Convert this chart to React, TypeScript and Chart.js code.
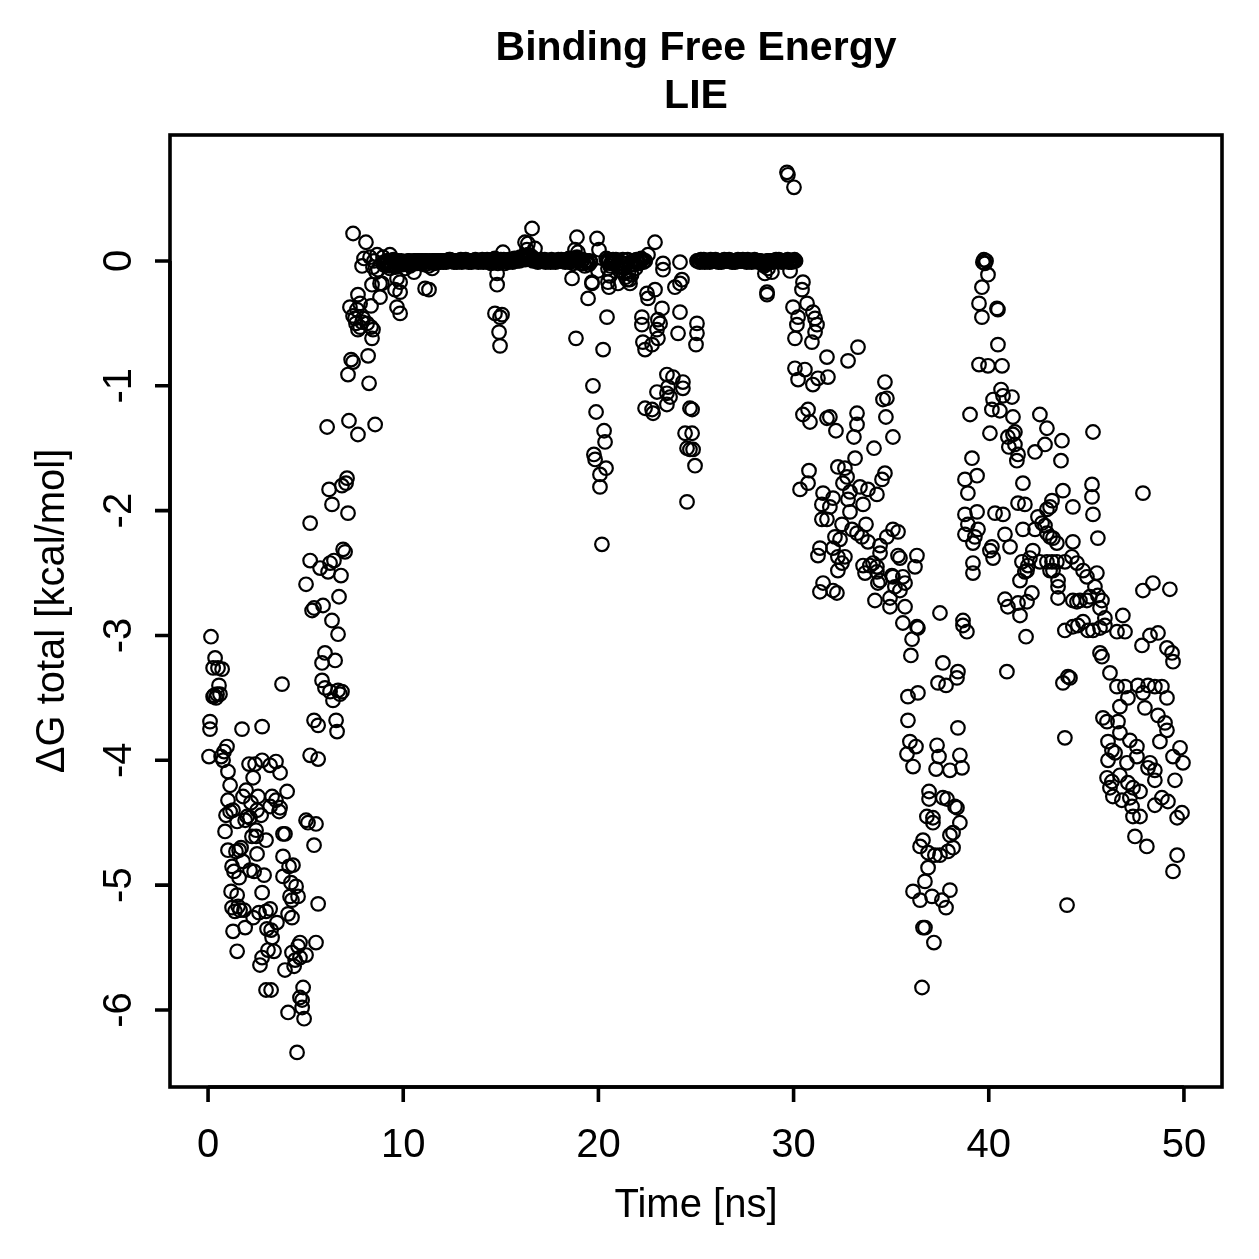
import React, { useEffect, useRef } from "react";
import { Chart, registerables } from "chart.js";

Chart.register(...registerables);

// ΔG (LIE) versus simulation time, [time ns, kcal/mol]
const seg0to5: [number, number][] = [
  [0.15, -3.01], [0.26, -3.26], [0.36, -3.18], [0.51, -3.26], [0.72, -3.27], [0.56, -3.4], [0.26, -3.49], [0.31, -3.48],
  [0.46, -3.47], [0.61, -3.47], [0.41, -3.5], [0.1, -3.69], [0.1, -3.75], [0.05, -3.97], [0.67, -3.97], [0.82, -3.93],
  [0.97, -3.89], [0.77, -4.0], [1.02, -4.09], [1.13, -4.2], [1.02, -4.32], [0.92, -4.44], [1.13, -4.41], [0.87, -4.57],
  [1.28, -4.4], [1.02, -4.72], [1.59, -4.72], [1.43, -4.73], [1.23, -4.85], [1.69, -4.7], [1.33, -4.89], [1.59, -4.94],
  [1.79, -4.81], [1.18, -5.05], [1.49, -5.08], [1.23, -5.18], [1.38, -5.21], [1.64, -5.2], [1.84, -5.2], [1.28, -5.37],
  [1.9, -5.34], [1.49, -5.53], [1.74, -3.75], [2.77, -3.73], [3.79, -3.39], [2.1, -4.03], [2.41, -4.03], [1.95, -4.24],
  [2.2, -4.34], [2.56, -4.29], [2.15, -4.46], [1.9, -4.48], [2.25, -4.61], [2.46, -4.61], [2.72, -4.44], [2.46, -4.56],
  [2.51, -4.75], [2.36, -4.89], [2.87, -4.92], [2.77, -5.06], [2.61, -5.22], [2.31, -5.26], [2.97, -5.21], [3.18, -5.19],
  [3.23, -5.36], [3.28, -5.42], [3.02, -5.35], [3.38, -5.53], [3.07, -5.52], [2.77, -5.58], [2.66, -5.64], [2.97, -5.84],
  [3.23, -5.84], [2.77, -4.0], [3.18, -4.04], [3.48, -4.01], [3.28, -4.29], [3.69, -4.1], [3.48, -4.32], [3.64, -4.41],
  [3.84, -4.59], [3.94, -4.59], [3.84, -4.77], [3.84, -4.93], [4.05, -4.25], [4.15, -4.85], [4.25, -4.98], [4.3, -5.12],
  [4.1, -5.23], [4.51, -5.01], [4.2, -5.09], [4.1, -6.02], [3.94, -5.68], [4.3, -5.54], [4.41, -5.65], [4.46, -5.6],
  [4.61, -5.49], [4.71, -5.46], [4.71, -5.58], [4.87, -5.82], [4.82, -5.92], [4.71, -5.9], [4.92, -6.07], [4.56, -6.34],
  [5.02, -5.56], [4.61, -5.09], [2.31, -4.14], [1.79, -4.29], [3.69, -4.38], [1.49, -4.49], [2.0, -4.45], [2.51, -4.4],
  [3.18, -4.37], [2.97, -4.64], [2.15, -4.88], [4.35, -4.84], [3.53, -5.3], [4.3, -5.26], [1.54, -5.17], [4.82, -5.98],
];

const seg5to9: [number, number][] = [
  [5.02, -4.48], [5.12, -4.5], [5.53, -4.51], [5.43, -4.68], [5.23, -3.96], [5.64, -3.99], [5.43, -3.68], [5.64, -3.72],
  [5.23, -2.1], [5.02, -2.59], [5.23, -2.4], [5.33, -2.8], [5.43, -2.78], [5.53, -5.46], [5.64, -5.15], [5.74, -2.46],
  [5.89, -2.76], [5.84, -3.22], [5.99, -3.14], [5.84, -3.36], [5.99, -3.42], [6.15, -2.49], [6.1, -1.33], [6.2, -1.83],
  [6.25, -2.42], [6.35, -2.88], [6.35, -1.95], [6.45, -2.4], [6.25, -3.45], [6.4, -3.52], [6.56, -3.68], [6.61, -3.77],
  [6.51, -3.2], [6.66, -3.44], [6.66, -2.99], [6.76, -3.47], [6.86, -3.45], [6.71, -2.69], [6.81, -2.52], [6.92, -2.31],
  [7.02, -2.33], [6.86, -1.8], [7.07, -1.78], [7.12, -1.74], [7.17, -2.02], [7.22, -1.28], [7.17, -0.91], [7.33, -0.79],
  [7.43, -0.81], [7.43, 0.22], [7.27, -0.37], [7.43, -0.44], [7.53, -0.46], [7.58, -0.5], [7.68, -0.55], [7.68, -1.39],
  [7.79, -0.53], [7.89, -0.49], [7.79, -0.34], [7.89, -0.04], [7.99, 0.02], [8.09, 0.15], [8.15, -0.5], [8.2, -0.76],
  [8.25, -0.98], [8.35, -0.36], [8.35, -0.53], [8.4, -0.62], [8.4, -0.19], [8.56, -1.31], [8.5, 0.0], [8.61, -0.09],
  [8.71, -0.07], [8.81, -0.18], [8.81, -0.29], [8.91, -0.18], [9.02, -0.01], [8.45, -0.05], [9.32, -0.06], [9.68, -0.14],
  [9.58, -0.23], [9.68, -0.37], [7.63, -0.39], [7.94, -0.46], [8.45, -0.55], [7.68, -0.27], [8.3, 0.03], [8.66, 0.05],
  [8.97, 0.03], [9.32, 0.05],
];

// near-zero plateau while the ligand sits outside the pocket
const plateauA: [number, number][] = [
  [9.0, -0.03], [9.1, -0.01], [9.2, 0.0], [9.3, -0.04], [9.4, -0.02], [9.5, 0.01], [9.6, -0.05], [9.7, -0.01], [9.8, -0.03], [9.9, 0.0],
  [10.0, -0.02], [10.1, -0.06], [10.2, -0.01], [10.3, 0.0], [10.4, -0.03], [10.5, -0.01], [10.6, 0.0], [10.7, -0.02], [10.8, 0.0], [10.9, -0.01],
  [11.0, 0.0], [11.1, -0.03], [11.2, 0.0], [11.3, -0.04], [11.4, -0.01], [11.5, 0.0], [11.6, -0.02], [11.7, 0.0], [11.8, 0.0], [11.9, -0.01],
  [12.0, 0.0], [12.1, 0.0], [12.2, -0.01], [12.3, 0.0], [12.4, 0.01], [12.5, 0.0], [12.6, -0.01], [12.7, 0.0], [12.8, 0.0], [12.9, 0.0],
  [13.0, -0.01], [13.1, 0.0], [13.2, 0.01], [13.3, 0.0], [13.4, 0.0], [13.5, -0.01], [13.6, 0.0], [13.7, 0.01], [13.8, 0.0], [13.9, 0.0],
  [14.0, 0.0], [14.1, -0.01], [14.2, 0.0], [14.3, 0.01], [14.4, 0.0], [14.5, -0.02], [14.6, 0.0], [14.7, 0.02], [14.8, 0.0], [14.9, -0.01],
  [15.0, 0.01], [15.1, 0.0], [15.2, -0.02], [15.3, 0.0], [15.4, 0.01], [15.5, 0.0], [15.6, -0.01], [15.7, 0.02], [15.8, 0.0], [15.9, 0.01],
  [16.0, 0.03], [16.1, 0.01], [16.2, 0.04], [16.3, 0.02], [16.4, 0.05], [16.5, 0.03], [16.6, 0.01], [16.7, 0.02], [16.8, 0.0], [16.9, -0.01],
  [17.0, 0.0], [17.1, 0.01], [17.2, 0.0], [17.3, -0.01], [17.4, 0.0], [17.5, 0.0], [17.6, 0.01], [17.7, 0.0], [17.8, -0.01], [17.9, 0.0],
  [18.0, 0.0], [18.1, 0.01], [18.2, 0.0], [18.3, -0.01], [18.4, 0.0], [18.5, 0.02], [18.6, 0.0], [18.7, -0.02], [18.8, 0.01], [18.9, 0.03],
  [19.0, 0.0], [19.1, -0.02], [19.2, 0.01], [19.3, -0.04], [19.4, 0.0], [19.5, -0.03], [19.6, -0.01],
];

const plateauAHalf: [number, number][] = [
  [9.05, -0.02], [9.15, 0.0], [9.25, -0.03], [9.35, -0.01], [9.45, 0.0], [9.55, -0.04], [9.65, -0.02], [9.75, 0.0], [9.85, -0.01], [9.95, -0.03],
  [10.05, -0.01], [10.15, -0.02], [10.25, 0.0], [10.35, -0.04], [10.45, -0.02], [10.55, 0.0], [10.65, -0.01], [10.75, 0.0], [10.85, -0.02], [10.95, 0.0],
  [11.05, -0.01], [11.15, 0.0], [11.25, -0.02], [11.35, 0.0], [11.45, -0.01], [11.55, 0.0], [11.65, 0.0], [11.75, -0.01], [11.85, 0.0], [11.95, 0.0],
  [12.05, -0.01], [12.15, 0.0], [12.25, 0.0], [12.35, 0.01], [12.45, 0.0], [12.55, 0.0], [12.65, 0.0], [12.75, -0.01], [12.85, 0.0], [12.95, 0.01],
  [13.05, 0.0], [13.15, 0.0], [13.25, 0.0], [13.35, -0.01], [13.45, 0.0], [13.55, 0.0], [13.65, 0.0], [13.75, 0.0], [13.85, -0.01], [13.95, 0.0],
  [14.05, 0.01], [14.15, 0.0], [14.25, 0.0], [14.35, -0.01], [14.45, 0.0], [14.55, 0.01], [14.65, 0.01], [14.75, 0.0], [14.85, -0.02], [14.95, 0.0],
  [15.05, 0.0], [15.15, 0.01], [15.25, 0.0], [15.35, -0.01], [15.45, 0.0], [15.55, 0.01], [15.65, 0.0], [15.75, 0.0], [15.85, 0.02], [15.95, 0.0],
  [16.05, 0.02], [16.15, 0.03], [16.25, 0.01], [16.35, 0.04], [16.45, 0.02], [16.55, 0.04], [16.65, 0.0], [16.75, 0.01], [16.85, 0.0], [16.95, 0.0],
  [17.05, 0.0], [17.15, 0.0], [17.25, 0.01], [17.35, 0.0], [17.45, 0.0], [17.55, -0.01], [17.65, 0.0], [17.75, 0.0], [17.85, 0.0], [17.95, 0.01],
  [18.05, 0.0], [18.15, 0.0], [18.25, 0.0], [18.35, 0.01], [18.45, 0.0], [18.55, -0.01], [18.65, 0.02], [18.75, 0.0], [18.85, 0.02], [18.95, 0.0],
  [19.05, 0.01], [19.15, 0.0], [19.25, -0.02], [19.35, 0.0], [19.45, -0.01], [19.55, 0.0],
];

const plateauB: [number, number][] = [
  [20.4, 0.02], [20.5, -0.01], [20.6, -0.04], [20.7, 0.0], [20.8, -0.02], [20.9, 0.01], [21.0, -0.05], [21.1, -0.08],
  [21.2, -0.02], [21.3, -0.1], [21.4, -0.13], [21.5, 0.01], [21.6, -0.15], [21.7, -0.11], [21.8, -0.03], [21.9, -0.06],
  [22.0, 0.0], [22.1, -0.02], [22.2, 0.02], [22.3, -0.01], [22.4, 0.0], [20.59, -0.12], [21.0, -0.18], [21.62, -0.18],
  [20.49, -0.06], [21.47, -0.15],
];

const plateauBHalf: [number, number][] = [
  [20.45, 0.0], [20.55, 0.01], [20.65, -0.02], [20.75, 0.01], [20.85, 0.0], [20.95, -0.03], [21.05, 0.0], [21.15, -0.04],
  [21.25, 0.01], [21.35, -0.06], [21.45, -0.02], [21.55, -0.09], [21.65, -0.03], [21.75, 0.0], [21.85, -0.01], [21.95, 0.01],
  [22.05, -0.01], [22.15, 0.0], [22.25, 0.01], [22.35, 0.0],
];

const plateauC: [number, number][] = [
  [25.1, 0.0], [25.2, -0.01], [25.3, 0.0], [25.4, 0.01], [25.5, 0.0], [25.6, 0.0], [25.7, -0.01], [25.8, 0.0], [25.9, 0.0], [26.0, 0.01],
  [26.1, 0.0], [26.2, 0.0], [26.3, -0.01], [26.4, 0.0], [26.5, 0.0], [26.6, 0.0], [26.7, 0.01], [26.8, 0.0], [26.9, 0.0], [27.0, -0.01],
  [27.1, 0.0], [27.2, 0.0], [27.3, 0.0], [27.4, 0.01], [27.5, 0.0], [27.6, -0.01], [27.7, 0.0], [27.8, 0.0], [27.9, 0.0], [28.0, 0.01],
  [28.1, 0.0], [28.2, -0.01], [28.3, 0.0], [28.4, -0.02], [28.5, -0.04], [28.6, -0.02], [28.7, 0.0], [28.8, -0.01], [28.9, 0.0], [29.0, 0.0],
  [29.1, 0.01], [29.2, 0.0], [29.3, 0.0], [29.4, -0.01], [29.5, 0.0], [29.6, 0.0], [29.7, 0.01], [29.8, 0.0], [29.9, -0.01], [30.0, 0.0],
  [30.1, 0.0],
];

const plateauCHalf: [number, number][] = [
  [25.05, 0.0], [25.15, 0.0], [25.25, 0.01], [25.35, 0.0], [25.45, -0.01], [25.55, 0.0], [25.65, 0.0], [25.75, 0.01], [25.85, 0.0], [25.95, 0.0],
  [26.05, 0.0], [26.15, -0.01], [26.25, 0.0], [26.35, 0.0], [26.45, 0.01], [26.55, 0.0], [26.65, 0.0], [26.75, 0.0], [26.85, -0.01], [26.95, 0.0],
  [27.05, 0.0], [27.15, 0.01], [27.25, 0.0], [27.35, 0.0], [27.45, 0.0], [27.55, 0.0], [27.65, 0.01], [27.75, 0.0], [27.85, -0.01], [27.95, 0.0],
  [28.05, 0.0], [28.15, 0.0], [28.25, 0.0], [28.35, -0.01], [28.45, -0.03], [28.55, -0.01], [28.65, 0.0], [28.75, 0.0], [28.85, 0.0], [28.95, -0.01],
  [29.05, 0.0], [29.15, 0.0], [29.25, 0.01], [29.35, 0.0], [29.45, 0.0], [29.55, 0.0], [29.65, 0.0], [29.75, -0.01], [29.85, 0.0], [29.95, 0.0],
  [30.05, 0.01],
];

const excursions9to30: [number, number][] = [
  [9.84, -0.17], [9.84, -0.25], [9.84, -0.42], [10.55, -0.09], [11.12, -0.22], [11.32, -0.23], [11.48, -0.06], [14.81, -0.1],
  [14.81, -0.19], [14.7, -0.42], [15.06, -0.43], [14.96, -0.45], [14.91, -0.57], [14.96, -0.68], [15.11, 0.07], [16.6, 0.26],
  [16.24, 0.15], [16.39, 0.14], [16.75, 0.1], [16.34, 0.09], [18.9, 0.19], [19.93, 0.18], [18.8, 0.09], [18.95, 0.07],
  [20.03, 0.09], [18.65, -0.14], [19.67, -0.17], [19.67, -0.18], [19.47, -0.3], [20.49, -0.17], [20.54, -0.21], [19.98, -0.08],
  [20.44, -0.45], [18.85, -0.62], [20.24, -0.71], [19.72, -1.0], [19.88, -1.21], [20.29, -1.36], [20.34, -1.45], [19.77, -1.55],
  [19.83, -1.59], [20.39, -1.66], [20.08, -1.71], [20.08, -1.81], [20.18, -2.27], [22.9, 0.15], [22.54, 0.05], [23.31, -0.02],
  [23.31, -0.07], [24.18, -0.01], [23.92, -0.21], [24.18, -0.18], [24.28, -0.15], [22.49, -0.26], [22.54, -0.3], [22.9, -0.23],
  [23.26, -0.38], [24.18, -0.41], [22.23, -0.45], [22.23, -0.51], [23.05, -0.47], [23.16, -0.5], [23.0, -0.55], [25.05, -0.5],
  [25.05, -0.58], [25.0, -0.67], [24.08, -0.58], [22.28, -0.65], [22.39, -0.71], [22.75, -0.67], [23.05, -0.62], [23.51, -0.91],
  [23.82, -0.93], [24.33, -0.97], [23.57, -1.01], [23.0, -1.05], [23.51, -1.06], [23.67, -1.09], [23.51, -1.15], [24.33, -1.02],
  [22.39, -1.18], [22.75, -1.19], [22.8, -1.22], [24.69, -1.18], [24.8, -1.19], [24.44, -1.38], [24.8, -1.38], [24.54, -1.5],
  [24.69, -1.51], [24.85, -1.51], [24.95, -1.64], [24.54, -1.93], [28.53, -0.1], [28.69, -0.06], [28.89, -0.09], [28.64, -0.25],
  [28.64, -0.27], [29.82, -0.08],
];

const seg30to37: [number, number][] = [
  [29.66, 0.71], [29.71, 0.69], [30.02, 0.59], [30.48, -0.17], [30.43, -0.23], [29.97, -0.37], [30.69, -0.34], [30.99, -0.41],
  [30.23, -0.45], [31.1, -0.46], [30.17, -0.51], [31.2, -0.51], [31.1, -0.57], [30.07, -0.62], [30.94, -0.65], [31.71, -0.77],
  [32.79, -0.8], [33.3, -0.69], [30.07, -0.86], [30.58, -0.87], [30.23, -0.95], [30.99, -0.99], [31.25, -0.94], [31.76, -0.93],
  [34.68, -0.97], [34.58, -1.11], [34.78, -1.1], [34.73, -1.25], [35.09, -1.41], [30.48, -1.23], [30.74, -1.19], [30.84, -1.29],
  [31.71, -1.26], [31.86, -1.25], [32.17, -1.36], [33.25, -1.22], [33.25, -1.31], [33.09, -1.41], [34.12, -1.5], [33.15, -1.58],
  [32.27, -1.65], [32.63, -1.66], [32.74, -1.73], [32.53, -1.78], [33.4, -1.81], [32.89, -1.85], [33.81, -1.83], [34.27, -1.87],
  [34.53, -1.75], [34.68, -1.7], [30.79, -1.68], [30.74, -1.78], [30.33, -1.83], [31.51, -1.86], [31.45, -1.95], [32.02, -1.9],
  [31.86, -1.97], [32.79, -1.91], [32.89, -2.01], [33.56, -1.95], [31.45, -2.07], [31.71, -2.07], [32.48, -2.11], [33.71, -2.11],
  [35.09, -2.15], [35.35, -2.17], [34.78, -2.21], [32.12, -2.21], [32.38, -2.23], [32.02, -2.3], [32.99, -2.15], [33.25, -2.18],
  [33.5, -2.21], [33.81, -2.25], [34.43, -2.28], [34.43, -2.34], [31.35, -2.3], [31.25, -2.36], [32.27, -2.37], [32.63, -2.37],
  [32.48, -2.42], [32.27, -2.48], [33.56, -2.44], [33.91, -2.44], [34.07, -2.42], [34.27, -2.45], [33.66, -2.5], [34.27, -2.49],
  [34.43, -2.56], [34.32, -2.58], [35.35, -2.36], [35.45, -2.38], [36.32, -2.36], [36.22, -2.45], [35.09, -2.53], [35.6, -2.53],
  [35.71, -2.58], [35.45, -2.64], [35.19, -2.61], [34.94, -2.7], [35.71, -2.77], [31.51, -2.58], [31.35, -2.65], [32.02, -2.64],
  [32.22, -2.66], [34.17, -2.72], [34.94, -2.77], [35.6, -2.9], [36.32, -2.93], [37.5, -2.82], [35.04, -2.52],
];

const seg35to39: [number, number][] = [
  [39.19, -2.42], [39.19, -2.5], [38.68, -2.88], [38.68, -2.92], [38.88, -2.97], [36.37, -2.94], [36.07, -3.03], [36.01, -3.16],
  [37.65, -3.22], [38.42, -3.29], [38.37, -3.34], [37.4, -3.38], [37.81, -3.4], [35.86, -3.49], [36.37, -3.46], [35.86, -3.68],
  [38.42, -3.74], [35.96, -3.85], [36.27, -3.89], [35.81, -3.95], [36.12, -4.05], [37.35, -3.88], [37.45, -3.97], [37.3, -4.07],
  [38.01, -4.08], [38.52, -3.96], [38.63, -4.06], [36.94, -4.25], [36.94, -4.31], [37.65, -4.3], [37.86, -4.31], [38.27, -4.37],
  [38.37, -4.38], [38.52, -4.5], [38.01, -4.6], [38.17, -4.58], [36.83, -4.45], [37.14, -4.46], [37.14, -4.5], [36.63, -4.64],
  [36.48, -4.69], [36.89, -4.74], [37.24, -4.76], [37.5, -4.76], [37.91, -4.73], [38.17, -4.7], [36.89, -4.86], [36.73, -4.97],
  [36.12, -5.05], [36.48, -5.12], [37.09, -5.09], [37.6, -5.12], [38.01, -5.04], [37.81, -5.18], [36.63, -5.34], [36.73, -5.34],
  [37.19, -5.46], [36.58, -5.82],
];

const seg39to44: [number, number][] = [
  [39.7, -0.01], [39.8, -0.02], [39.75, 0.01], [39.86, 0.0], [39.96, -0.11], [39.65, -0.21], [39.5, -0.34], [39.65, -0.45],
  [40.42, -0.38], [40.47, -0.39], [40.47, -0.67], [39.5, -0.83], [39.96, -0.84], [40.68, -0.84], [40.63, -1.03], [40.22, -1.11],
  [40.73, -1.08], [41.19, -1.09], [40.16, -1.19], [40.57, -1.2], [39.04, -1.23], [41.24, -1.25], [41.34, -1.37], [41.24, -1.39],
  [40.98, -1.41], [41.03, -1.49], [41.34, -1.47], [41.5, -1.55], [41.44, -1.6], [40.06, -1.38], [42.62, -1.23], [42.98, -1.34],
  [42.88, -1.47], [42.37, -1.53], [43.75, -1.44], [43.7, -1.6], [39.14, -1.58], [39.4, -1.72], [38.78, -1.75], [38.93, -1.86],
  [41.75, -1.78], [43.8, -1.84], [41.5, -1.94], [41.85, -1.95], [43.24, -1.92], [43.14, -1.97], [42.98, -1.99], [38.78, -2.03],
  [39.4, -2.01], [38.93, -2.11], [39.45, -2.15], [39.29, -2.21], [38.78, -2.19], [39.19, -2.26], [40.32, -2.02], [40.73, -2.03],
  [42.52, -2.05], [42.73, -2.1], [42.88, -2.12], [42.37, -2.15], [42.98, -2.18], [43.14, -2.21], [43.29, -2.22], [43.49, -2.26],
  [41.75, -2.15], [42.26, -2.32], [42.11, -2.38], [41.7, -2.41], [42.01, -2.44], [41.85, -2.49], [41.6, -2.56], [41.96, -2.48],
  [40.16, -2.29], [40.06, -2.32], [40.22, -2.38], [40.83, -2.19], [41.09, -2.29], [42.62, -2.41], [42.98, -2.41], [43.24, -2.41],
  [43.49, -2.41], [43.9, -2.41], [43.14, -2.48], [43.29, -2.48], [43.55, -2.56], [43.55, -2.61], [43.55, -2.7], [40.83, -2.71],
  [40.98, -2.77], [41.5, -2.74], [41.6, -2.84], [41.96, -2.73], [42.21, -2.66], [41.91, -3.01], [43.9, -2.96], [40.93, -3.29],
];

const seg44to50: [number, number][] = [
  [45.34, -1.37], [45.29, -1.79], [45.29, -1.89], [45.34, -2.03], [45.59, -2.22], [44.31, -1.97], [47.9, -1.86], [44.31, -2.25],
  [44.26, -2.37], [44.52, -2.42], [44.83, -2.48], [45.03, -2.53], [45.54, -2.5], [44.31, -2.72], [44.52, -2.73], [44.67, -2.72],
  [45.03, -2.72], [45.18, -2.69], [45.44, -2.61], [45.59, -2.68], [45.8, -2.72], [45.7, -2.78], [45.95, -2.86], [46.87, -2.84],
  [44.31, -2.93], [44.57, -2.92], [44.83, -2.89], [45.08, -2.96], [45.34, -2.96], [45.7, -2.94], [45.95, -2.92], [46.57, -2.97],
  [46.98, -2.97], [47.9, -2.64], [48.41, -2.58], [49.28, -2.63], [47.85, -3.08], [48.26, -3.0], [48.67, -2.98], [49.13, -3.1],
  [49.39, -3.14], [49.44, -3.21], [45.7, -3.14], [45.8, -3.17], [46.21, -3.3], [44.06, -3.33], [43.8, -3.38], [44.16, -3.34],
  [46.57, -3.41], [46.98, -3.41], [47.64, -3.4], [47.9, -3.46], [48.16, -3.4], [48.51, -3.41], [48.87, -3.41], [49.13, -3.5],
  [47.13, -3.5], [46.72, -3.57], [48.0, -3.58], [45.85, -3.66], [46.06, -3.69], [46.62, -3.69], [48.67, -3.64], [49.03, -3.7],
  [49.13, -3.76], [48.77, -3.85], [46.72, -3.78], [47.23, -3.84], [47.59, -3.89], [46.11, -3.85], [46.31, -3.92], [46.47, -3.94],
  [46.11, -4.0], [47.08, -4.02], [47.59, -3.97], [48.26, -4.02], [48.51, -4.08], [49.44, -3.97], [49.8, -3.9], [49.95, -4.02],
  [49.54, -4.16], [46.06, -4.14], [46.31, -4.17], [46.72, -4.12], [47.13, -4.18], [47.39, -4.22], [47.75, -4.25], [48.16, -4.06],
  [48.51, -4.16], [46.21, -4.22], [46.36, -4.29], [46.82, -4.32], [47.23, -4.3], [47.34, -4.37], [47.39, -4.45], [47.75, -4.45],
  [48.51, -4.36], [48.87, -4.3], [49.18, -4.33], [49.65, -4.46], [49.9, -4.42], [47.49, -4.61], [48.1, -4.69], [49.65, -4.76],
  [49.44, -4.89], [44.01, -5.16], [43.9, -3.82],
];

const xTickValues = [0, 10, 20, 30, 40, 50];
const yTickValues = [0, -1, -2, -3, -4, -5, -6];

const titleLines = ["Binding Free Energy", "LIE"];
const xTitle = "Time [ns]";
const yTitle = "ΔG total [kcal/mol]";

const FONT = '"Liberation Sans", Arial, Helvetica, sans-serif';

// R-style frame, outward ticks, rotated y labels and two-line title
const rAxesPlugin = {
  id: "rAxes",
  afterDraw(chart: any) {
    const { ctx, chartArea: a, scales } = chart;
    const xs = scales.x;
    const ys = scales.y;
    ctx.save();
    ctx.strokeStyle = "#000";
    ctx.fillStyle = "#000";
    ctx.lineWidth = 3.6;
    ctx.lineCap = "butt";
    ctx.lineJoin = "miter";
    ctx.strokeRect(a.left, a.top, a.right - a.left, a.bottom - a.top);

    // x axis
    ctx.beginPath();
    const xFirst = xs.getPixelForValue(xTickValues[0]);
    const xLast = xs.getPixelForValue(xTickValues[xTickValues.length - 1]);
    ctx.moveTo(xFirst, a.bottom);
    ctx.lineTo(xLast, a.bottom);
    xTickValues.forEach((v) => {
      const px = xs.getPixelForValue(v);
      ctx.moveTo(px, a.bottom);
      ctx.lineTo(px, a.bottom + 15);
    });
    ctx.stroke();
    ctx.font = `40px ${FONT}`;
    ctx.textAlign = "center";
    ctx.textBaseline = "alphabetic";
    xTickValues.forEach((v) => {
      ctx.fillText(String(v), xs.getPixelForValue(v), a.bottom + 70);
    });

    // y axis
    ctx.beginPath();
    const yFirst = ys.getPixelForValue(yTickValues[0]);
    const yLast = ys.getPixelForValue(yTickValues[yTickValues.length - 1]);
    ctx.moveTo(a.left, yFirst);
    ctx.lineTo(a.left, yLast);
    yTickValues.forEach((v) => {
      const py = ys.getPixelForValue(v);
      ctx.moveTo(a.left, py);
      ctx.lineTo(a.left - 15, py);
    });
    ctx.stroke();
    yTickValues.forEach((v) => {
      const py = ys.getPixelForValue(v);
      ctx.save();
      ctx.translate(a.left - 39, py);
      ctx.rotate(-Math.PI / 2);
      ctx.fillText(String(v), 0, 0);
      ctx.restore();
    });

    // axis titles
    const cx = (a.left + a.right) / 2;
    const cy = (a.top + a.bottom) / 2;
    ctx.fillText(xTitle, cx, a.bottom + 130);
    ctx.save();
    ctx.translate(a.left - 106, cy);
    ctx.rotate(-Math.PI / 2);
    ctx.fillText(yTitle, 0, 0);
    ctx.restore();

    // main title
    ctx.font = `bold 41px ${FONT}`;
    ctx.fillText(titleLines[0], cx, 60);
    ctx.fillText(titleLines[1], cx, 108);
    ctx.restore();
  },
};

export default function App() {
  const canvasRef = useRef<HTMLCanvasElement | null>(null);

  useEffect(() => {
    const canvas = canvasRef.current;
    if (!canvas) return;
    const points = [
      ...seg0to5,
      ...seg5to9,
      ...plateauA,
      ...plateauAHalf,
      ...plateauB,
      ...plateauBHalf,
      ...plateauC,
      ...plateauCHalf,
      ...excursions9to30,
      ...seg30to37,
      ...seg35to39,
      ...seg39to44,
      ...seg44to50,
    ].map(([x, y]) => ({ x, y }));

    const chart = new Chart(canvas, {
      type: "scatter",
      data: {
        datasets: [
          {
            data: points,
            pointStyle: "circle",
            pointRadius: 6.8,
            pointBorderWidth: 2.2,
            pointBorderColor: "#000",
            pointBackgroundColor: "rgba(0,0,0,0)",
            pointHoverRadius: 6.8,
          },
        ],
      },
      options: {
        animation: false,
        responsive: false,
        devicePixelRatio: 1,
        events: [],
        layout: { padding: { left: 170, top: 135, right: 37, bottom: 172 } },
        plugins: {
          legend: { display: false },
          tooltip: { enabled: false },
          title: { display: false },
        },
        scales: {
          x: { type: "linear", min: -1.95, max: 51.95, display: false },
          y: { type: "linear", min: -6.617, max: 1.009, display: false },
        },
      },
      plugins: [rAxesPlugin],
    });
    return () => chart.destroy();
  }, []);

  return (
    <div style={{ position: "fixed", left: 0, top: 0, width: 1259, height: 1259, background: "#fff" }}>
      <canvas ref={canvasRef} width={1259} height={1259} style={{ width: 1259, height: 1259, display: "block" }} />
    </div>
  );
}
